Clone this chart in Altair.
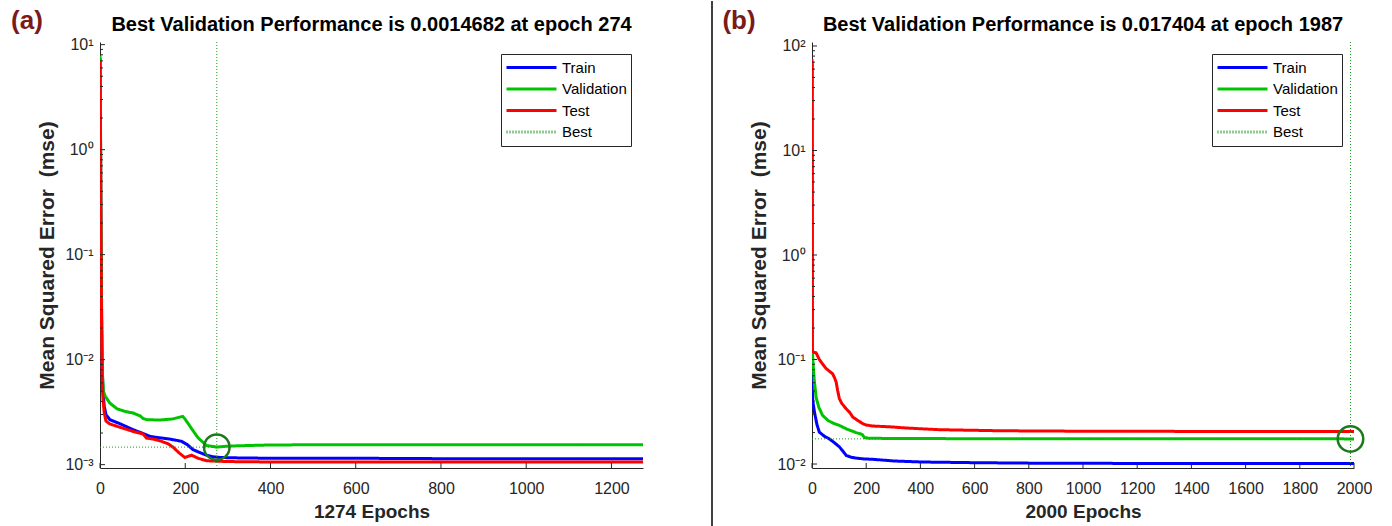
import altair as alt
import pandas as pd

# ---------------- panel (a): 1274 epochs ----------------
A_TRAIN_EPOCH = [0, 1, 2, 3, 4, 5, 7, 10, 14, 23, 47, 78, 101, 117, 140, 164, 191, 205,
                 218, 235, 250, 265, 281, 320, 400, 600, 800, 1000, 1274]
A_TRAIN_MSE = [7.5, 2.0, 0.3, 0.06, 0.02, 0.009, 0.0050, 0.0036, 0.0030, 0.00268, 0.00245,
               0.00215, 0.00198, 0.00186, 0.00180, 0.00175, 0.00167, 0.00155, 0.00139,
               0.00130, 0.00123, 0.00119, 0.00117, 0.00116, 0.00115, 0.00115, 0.00114,
               0.00114, 0.00114]

A_VAL_EPOCH = [0, 1, 2, 3, 4, 5, 6, 8, 12, 23, 40, 60, 78, 95, 101, 110, 140, 170, 194,
               200, 215, 230, 250, 265, 274, 290, 320, 400, 600, 800, 1000, 1274]
A_VAL_MSE = [7.9, 2.5, 0.4, 0.08, 0.025, 0.012, 0.007, 0.0050, 0.0045, 0.00386, 0.0034,
             0.0032, 0.0031, 0.0029, 0.00275, 0.00268, 0.00266, 0.00272, 0.00288, 0.0027,
             0.0022, 0.0018, 0.00152, 0.00149, 0.0014682, 0.00149, 0.00151, 0.00154,
             0.00155, 0.00155, 0.00155, 0.00155]

A_TEST_EPOCH = [0, 1, 2, 3, 4, 5, 7, 10, 14, 23, 47, 78, 101, 109, 125, 140, 160, 172, 185,
                199, 215, 230, 250, 270, 300, 400, 600, 800, 1000, 1274]
A_TEST_MSE = [7.0, 1.8, 0.25, 0.05, 0.015, 0.007, 0.0042, 0.0031, 0.0026, 0.00244, 0.00227,
              0.00207, 0.00196, 0.00179, 0.00175, 0.00169, 0.00158, 0.00146, 0.00130,
              0.00117, 0.00123, 0.00115, 0.00109, 0.00108, 0.00107, 0.00106, 0.00106,
              0.00106, 0.00106, 0.00106]

A_BEST_EPOCH = 274
A_BEST_MSE = 0.0014682
A_X_TICKS = [0, 200, 400, 600, 800, 1000, 1200]
A_Y_TICKS = [0.001, 0.01, 0.1, 1, 10]
A_Y_LABELS = ["10⁻³", "10⁻²", "10⁻¹", "10⁰", "10¹"]

# ---------------- panel (b): 2000 epochs ----------------
B_TRAIN_EPOCH = [0, 1, 3, 9, 18, 27, 45, 64, 80, 101, 115, 126, 145, 163, 190, 225, 300,
                 410, 600, 800, 1000, 1200, 1400, 1600, 1800, 2000]
B_TRAIN_MSE = [70, 0.052, 0.040, 0.0315, 0.024, 0.0202, 0.0185, 0.0174, 0.0162, 0.0146,
               0.0132, 0.0121, 0.0116, 0.0114, 0.0112, 0.0111, 0.0107, 0.01045, 0.0103,
               0.0102, 0.0102, 0.0101, 0.0101, 0.0101, 0.0101, 0.0101]

B_VAL_EPOCH = [0, 1, 3, 8, 15, 25, 39, 60, 80, 101, 130, 163, 185, 194, 210, 300, 500,
               1000, 1500, 1987, 2000]
B_VAL_MSE = [72, 0.13, 0.10, 0.065, 0.0437, 0.035, 0.0292, 0.026, 0.0245, 0.0234, 0.0215,
             0.0200, 0.0192, 0.0179, 0.01765, 0.01755, 0.01750, 0.01745, 0.01742,
             0.017404, 0.017404]

B_TEST_EPOCH = [0, 1, 3, 15, 27, 40, 52, 65, 76, 83, 89, 95, 101, 110, 126, 140, 150, 170,
                188, 200, 225, 300, 348, 471, 700, 1000, 1500, 2000]
B_TEST_MSE = [75, 0.125, 0.118, 0.116, 0.100, 0.090, 0.082, 0.077, 0.0731, 0.067, 0.061,
              0.050, 0.0422, 0.038, 0.0338, 0.031, 0.0282, 0.026, 0.0243, 0.0236, 0.0231,
              0.0226, 0.0221, 0.0213, 0.0208, 0.0206, 0.0205, 0.0205]

B_BEST_EPOCH = 1987
B_BEST_MSE = 0.017404
B_X_TICKS = [0, 200, 400, 600, 800, 1000, 1200, 1400, 1600, 1800, 2000]
B_Y_TICKS = [0.01, 0.1, 1, 10, 100]
B_Y_LABELS = ["10⁻²", "10⁻¹", "10⁰", "10¹", "10²"]

# ---------------- styling ----------------
SERIES = ["Train", "Validation", "Test", "Best"]
SERIES_COLORS = ["#0000FF", "#00C400", "#FF0000", "#1E9A1E"]
SERIES_DASH = [[1, 0], [1, 0], [1, 0], [1, 2]]
SERIES_WIDTH = [3, 3, 3, 1]
BEST_COLOR = "#1E9A1E"
CIRCLE_COLOR = "#1B7A1B"
AXIS_COLOR = "#262626"
FONT = "Liberation Sans"


def minor_ticks(lo_exp, hi_exp):
    vals = []
    for e in range(lo_exp, hi_exp):
        for k in range(2, 10):
            vals.append(k * 10.0 ** e)
    return vals


def label_expr(values, labels):
    expr = "''"
    for v, lab in reversed(list(zip(values, labels))):
        expr = f"abs(log(datum.value) - log({v})) < 0.1 ? '{lab}' : ({expr})"
    return expr


def panel(parts, best_epoch, best_mse, x_max, x_ticks, y_lo, y_hi, y_ticks, y_labels,
          minor, title, x_title, tag, w, h, separator=False):
    frames = [pd.DataFrame({"epoch": ep, "mse": v, "series": name}) for name, ep, v in parts]
    df = pd.concat(frames, ignore_index=True)

    xs = alt.Scale(domain=[0, x_max], nice=False, zero=False)
    ys = alt.Scale(type="log", domain=[y_lo, y_hi], nice=False)

    x_axis = alt.Axis(values=x_ticks, format="d", title=x_title, ticks=False, grid=False,
                      labelFontSize=16, labelPadding=12, labelColor=AXIS_COLOR,
                      titleFontSize=19, titleFontWeight="bold", titleColor=AXIS_COLOR,
                      titlePadding=6, domainColor=AXIS_COLOR, labelFlush=False)
    y_axis = alt.Axis(values=y_ticks, labelExpr=label_expr(y_ticks, y_labels),
                      title="Mean Squared Error \u00a0(mse)", ticks=False, grid=False,
                      labelFontSize=16, labelPadding=7, labelColor=AXIS_COLOR,
                      titleFontSize=21, titleFontWeight="bold", titleColor=AXIS_COLOR,
                      titlePadding=7, domainColor=AXIS_COLOR)

    enc = dict(
        x=alt.X("epoch:Q", scale=xs, axis=x_axis),
        y=alt.Y("mse:Q", scale=ys, axis=y_axis),
        color=alt.Color("series:N", scale=alt.Scale(domain=SERIES, range=SERIES_COLORS),
                        legend=alt.Legend(title=None)),
        strokeDash=alt.StrokeDash("series:N", scale=alt.Scale(domain=SERIES, range=SERIES_DASH),
                                  legend=alt.Legend(title=None)),
        strokeWidth=alt.StrokeWidth("series:N", scale=alt.Scale(domain=SERIES, range=SERIES_WIDTH),
                                    legend=alt.Legend(title=None)),
    )

    base = alt.Chart(df)
    # Test is drawn last so it sits on top, as in nntraintool plots
    layers = [
        base.transform_filter(alt.datum.series == name).mark_line(clip=True).encode(**enc)
        for name in ["Train", "Validation", "Test"]
    ]

    best = pd.DataFrame({"epoch": [best_epoch], "mse": [best_mse], "start": [0]})
    layers.append(alt.Chart(best).mark_rule(color=BEST_COLOR, strokeDash=[1, 2], strokeWidth=1)
                  .encode(x="epoch:Q"))
    layers.append(alt.Chart(best).mark_rule(color=BEST_COLOR, strokeDash=[1, 2], strokeWidth=1)
                  .encode(x="start:Q", x2="epoch:Q", y="mse:Q"))
    layers.append(alt.Chart(best).mark_point(shape="circle", filled=False, size=650,
                                             strokeWidth=2.5, color=CIRCLE_COLOR, opacity=1)
                  .encode(x="epoch:Q", y="mse:Q"))

    # inward tick marks
    layers.append(alt.Chart(pd.DataFrame({"epoch": x_ticks})).mark_rule(color=AXIS_COLOR)
                  .encode(x="epoch:Q", y=alt.value(h), y2=alt.value(h - 5)))
    layers.append(alt.Chart(pd.DataFrame({"mse": y_ticks})).mark_rule(color=AXIS_COLOR)
                  .encode(y="mse:Q", x=alt.value(0), x2=alt.value(5)))
    layers.append(alt.Chart(pd.DataFrame({"mse": minor})).mark_rule(color=AXIS_COLOR)
                  .encode(y="mse:Q", x=alt.value(0), x2=alt.value(3)))

    # panel heading and tag, drawn as text so they sit at fixed offsets above the axes
    layers.append(alt.Chart(pd.DataFrame({"t": [title]}))
                  .mark_text(fontSize=20, fontWeight="bold", color="black", font=FONT,
                             align="center", baseline="middle")
                  .encode(x=alt.value(w / 2), y=alt.value(-17), text="t:N"))
    layers.append(alt.Chart(pd.DataFrame({"t": [tag]}))
                  .mark_text(fontSize=26, fontWeight="bold", color="#7A1A1A", font=FONT,
                             align="center", baseline="middle")
                  .encode(x=alt.value(-73), y=alt.value(-21), text="t:N"))
    if separator:
        layers.append(alt.Chart(pd.DataFrame({"s": [0]})).mark_rule(color="black", strokeWidth=1.5)
                      .encode(x=alt.value(-100), y=alt.value(-41), y2=alt.value(486)))

    return alt.layer(*layers).properties(width=w, height=h)


panel_a = panel(
    [("Train", A_TRAIN_EPOCH, A_TRAIN_MSE), ("Validation", A_VAL_EPOCH, A_VAL_MSE),
     ("Test", A_TEST_EPOCH, A_TEST_MSE)],
    A_BEST_EPOCH, A_BEST_MSE, 1274, A_X_TICKS, 10 ** -3.032, 10 ** 1.025, A_Y_TICKS,
    A_Y_LABELS, minor_ticks(-3, 1),
    "Best Validation Performance is 0.0014682 at epoch 274", "1274 Epochs", "(a)", 543, 426,
)

panel_b = panel(
    [("Train", B_TRAIN_EPOCH, B_TRAIN_MSE), ("Validation", B_VAL_EPOCH, B_VAL_MSE),
     ("Test", B_TEST_EPOCH, B_TEST_MSE)],
    B_BEST_EPOCH, B_BEST_MSE, 2000, B_X_TICKS, 10 ** -2.038, 10 ** 2.038, B_Y_TICKS,
    B_Y_LABELS, minor_ticks(-2, 2),
    "Best Validation Performance is 0.017404 at epoch 1987", "2000 Epochs", "(b)", 542, 426,
    separator=True,
)

chart = (
    alt.hconcat(panel_a, panel_b, spacing=68)
    .resolve_scale(x="independent", y="independent", color="independent",
                   strokeDash="independent", strokeWidth="independent")
    .resolve_legend(color="independent", strokeDash="independent", strokeWidth="independent")
    .properties(padding={"left": 11, "top": 0, "right": 0, "bottom": 0}, background="white")
    .configure(font=FONT)
    .configure_view(stroke=None)
    .configure_legend(orient="top-right", offset=12, strokeColor=AXIS_COLOR, fillColor="white",
                      padding=4, symbolType="stroke", symbolSize=2500, clipHeight=19,
                      rowPadding=2.5, labelFontSize=15, labelColor="black", labelOffset=4,
                      labelFont=FONT)
)

chart.save("out.html", embed_options={"renderer": "svg", "actions": False})
